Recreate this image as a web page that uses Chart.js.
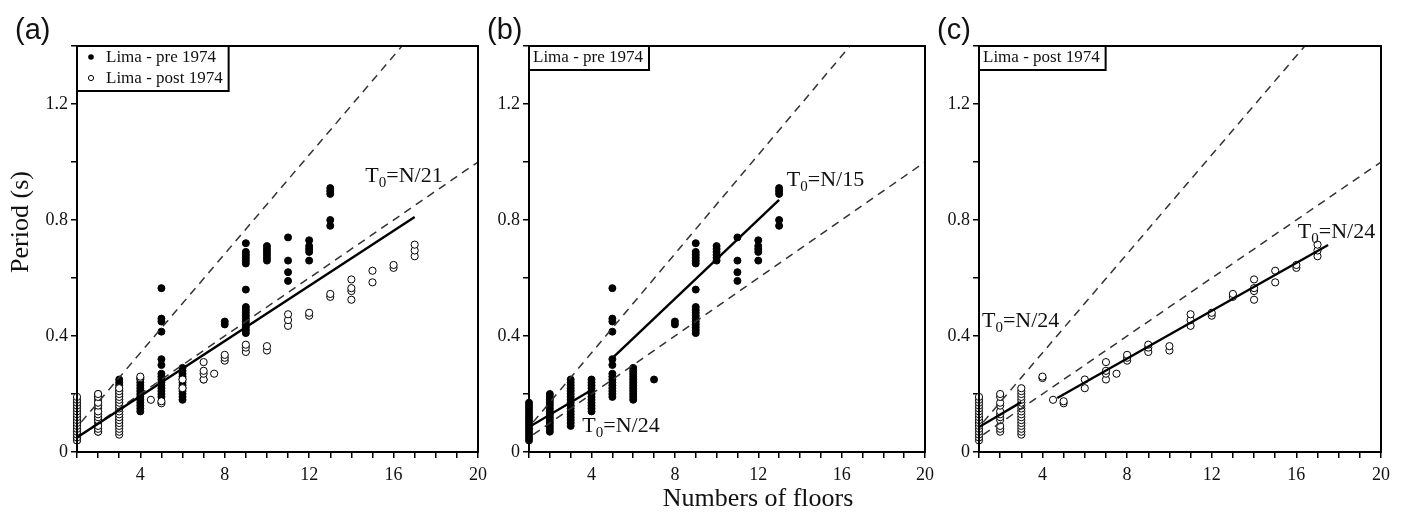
<!DOCTYPE html>
<html>
<head>
  <title>Period vs number of floors - Lima</title>
  <style>
    body { margin: 0; background: #fff; }
    .wrap { position: relative; width: 1404px; height: 512px; }
    canvas { position: absolute; top: 0; }
  </style>
</head>
<body>
  <div class="wrap">
    <canvas id="chartA" width="500" height="512" style="left:0px"></canvas>
    <canvas id="chartB" width="460" height="512" style="left:480px"></canvas>
    <canvas id="chartC" width="474" height="512" style="left:930px"></canvas>
  </div>

  <script src="https://cdn.jsdelivr.net/npm/chart.js@4"></script>
  <script>
    // measured periods, grouped by number of floors
    const preFloors = [1, 2, 3, 4, 5, 6, 7, 8, 9, 10, 11, 12, 13];
    const prePeriods = [
      [0.04, 0.05, 0.06, 0.07, 0.08, 0.09, 0.10, 0.11, 0.12, 0.13, 0.14, 0.15, 0.16, 0.17],
      [0.07, 0.08, 0.09, 0.10, 0.11, 0.12, 0.13, 0.14, 0.15, 0.16, 0.17, 0.18, 0.19, 0.20],
      [0.09, 0.10, 0.11, 0.12, 0.13, 0.14, 0.15, 0.16, 0.17, 0.18, 0.19, 0.20, 0.21, 0.22, 0.23, 0.24, 0.25],
      [0.14, 0.15, 0.16, 0.17, 0.18, 0.19, 0.20, 0.21, 0.22, 0.23, 0.24, 0.25],
      [0.19, 0.20, 0.21, 0.22, 0.23, 0.24, 0.25, 0.26, 0.27, 0.30, 0.32, 0.415, 0.45, 0.46, 0.565],
      [0.18, 0.19, 0.20, 0.21, 0.22, 0.23, 0.24, 0.25, 0.26, 0.27, 0.28, 0.29],
      [0.25],
      [0.44, 0.45],
      [0.41, 0.42, 0.43, 0.44, 0.45, 0.46, 0.47, 0.48, 0.49, 0.50, 0.56, 0.65, 0.66, 0.67, 0.68, 0.69, 0.72],
      [0.66, 0.67, 0.68, 0.69, 0.70, 0.71],
      [0.59, 0.62, 0.66, 0.74],
      [0.66, 0.69, 0.70, 0.71, 0.73],
      [0.78, 0.80, 0.89, 0.90, 0.91]
    ];
    const postFloors = [1, 2, 3, 4, 4.5, 5, 6, 7, 7.5, 8, 9, 10, 11, 12, 13, 14, 15, 16, 17];
    const postPeriods = [
      [0.04, 0.05, 0.06, 0.07, 0.08, 0.09, 0.10, 0.11, 0.12, 0.13, 0.14, 0.15, 0.16, 0.17, 0.18, 0.19],
      [0.07, 0.08, 0.09, 0.11, 0.12, 0.13, 0.14, 0.16, 0.17, 0.19, 0.20],
      [0.06, 0.07, 0.08, 0.09, 0.10, 0.11, 0.12, 0.13, 0.14, 0.15, 0.16, 0.17, 0.18, 0.19, 0.20, 0.21, 0.22],
      [0.255, 0.26],
      [0.18],
      [0.168, 0.175],
      [0.22, 0.25],
      [0.25, 0.27, 0.28, 0.31],
      [0.27],
      [0.315, 0.325, 0.335],
      [0.345, 0.36, 0.37],
      [0.35, 0.365],
      [0.435, 0.455, 0.475],
      [0.47, 0.48],
      [0.535, 0.545],
      [0.525, 0.555, 0.565, 0.595],
      [0.585, 0.625],
      [0.635, 0.645],
      [0.675, 0.695, 0.715]
    ];

    // reference lines (dashed) and fitted lines (solid), as end points
    const guideUpperX = [1.2, 16.4];
    const guideUpperY = [0.103, 1.4];
    const guideLowerX = [1.2, 20];
    const guideLowerY = [0.06, 1.0];
    const fitAllX = [1, 17];
    const fitAllY = [0.05, 0.81];
    const fitPreLowX = [1, 4];
    const fitPreLowY = [0.086, 0.214];
    const fitPreHighX = [5, 13];
    const fitPreHighY = [0.324, 0.869];
    const fitPostLowX = [1, 3];
    const fitPostLowY = [0.086, 0.172];
    const fitPostHighX = [4.7, 17.5];
    const fitPostHighY = [0.186, 0.714];

    const xTicks = [4, 8, 12, 16, 20];
    const yTicks = [0, 0.4, 0.8, 1.2];

    const serif = "'Liberation Serif', 'Times New Roman', serif";
    Chart.defaults.font.family = serif;
    Chart.defaults.color = '#111';

    function toPoints(xs, ys) {
      return xs.map((x, i) => ({ x: x, y: ys[i] }));
    }

    function groupPoints(floors, periods) {
      const pts = [];
      floors.forEach((f, i) => periods[i].forEach(p => pts.push({ x: f, y: p })));
      return pts;
    }

    function lineSet(xs, ys, dashed) {
      return {
        data: toPoints(xs, ys),
        showLine: true,
        borderColor: dashed ? '#333' : '#000',
        borderWidth: dashed ? 1.5 : 2.4,
        borderDash: dashed ? [8, 6] : [],
        pointRadius: 0,
        fill: false
      };
    }

    const preSet = () => ({
      data: groupPoints(preFloors, prePeriods),
      clip: false,
      pointRadius: 3.5,
      pointBackgroundColor: '#000',
      pointBorderColor: '#000',
      pointBorderWidth: 1
    });
    const postSet = () => ({
      data: groupPoints(postFloors, postPeriods),
      clip: false,
      pointRadius: 3.6,
      pointBackgroundColor: '#fff',
      pointBorderColor: '#000',
      pointBorderWidth: 1
    });

    // draws "T0=N/xx" with a subscript 0
    function drawT0(ctx, x, y, denom) {
      ctx.fillStyle = '#111';
      ctx.textAlign = 'left';
      ctx.textBaseline = 'alphabetic';
      ctx.font = '22px ' + serif;
      ctx.fillText('T', x, y);
      let w = ctx.measureText('T').width;
      ctx.font = '15px ' + serif;
      ctx.fillText('0', x + w, y + 5);
      w += ctx.measureText('0').width;
      ctx.font = '22px ' + serif;
      ctx.fillText('=N/' + denom, x + w, y);
    }

    const panelDecor = {
      id: 'panelDecor',
      afterDatasetsDraw(chart, args, opts) {
        const ctx = chart.ctx;
        const a = chart.chartArea;
        const sx = chart.scales.x;
        const sy = chart.scales.y;
        ctx.save();

        ctx.strokeStyle = '#000';
        ctx.lineWidth = 2;
        ctx.strokeRect(a.left, a.top, a.right - a.left, a.bottom - a.top);

        (opts.notes || []).forEach(n => {
          drawT0(ctx, sx.getPixelForValue(n.x), sy.getPixelForValue(n.y), n.denom);
        });

        // legend box in the top left corner
        ctx.font = '17px ' + serif;
        const lines = opts.legend || [];
        const withMarker = lines.length > 1;
        const textLeft = withMarker ? 29 : 4;
        let tw = 0;
        lines.forEach(l => { tw = Math.max(tw, ctx.measureText(l.text).width); });
        const bw = textLeft + tw + 6;
        const bh = withMarker ? 45 : 24;
        ctx.fillStyle = '#fff';
        ctx.fillRect(a.left, a.top, bw, bh);
        ctx.lineWidth = 2;
        ctx.strokeRect(a.left, a.top, bw, bh);
        lines.forEach((l, i) => {
          const base = a.top + 16 + i * 21;
          ctx.fillStyle = '#111';
          ctx.textAlign = 'left';
          ctx.fillText(l.text, a.left + textLeft, base);
          if (withMarker) {
            ctx.beginPath();
            ctx.arc(a.left + 14, base - 5, l.filled ? 2.8 : 2.6, 0, Math.PI * 2);
            ctx.lineWidth = 1;
            if (l.filled) { ctx.fillStyle = '#000'; ctx.fill(); }
            else { ctx.strokeStyle = '#000'; ctx.stroke(); }
          }
        });

        // panel letter
        ctx.fillStyle = '#111';
        ctx.font = '29px "Liberation Sans", Arial, sans-serif';
        ctx.textAlign = 'left';
        ctx.fillText(opts.letter, opts.letterX, 39);

        if (opts.yTitle) {
          ctx.save();
          ctx.translate(opts.yTitle.x, opts.yTitle.y);
          ctx.rotate(-Math.PI / 2);
          ctx.font = '26px ' + serif;
          ctx.textAlign = 'center';
          ctx.fillText(opts.yTitle.text, 0, 0);
          ctx.restore();
        }
        if (opts.xTitle) {
          ctx.font = '26px ' + serif;
          ctx.textAlign = 'center';
          ctx.fillText(opts.xTitle.text, opts.xTitle.x, opts.xTitle.y);
        }
        ctx.restore();
      }
    };

    function makePanel(id, datasets, yWidth, padRight, decor) {
      return new Chart(document.getElementById(id), {
        type: 'scatter',
        data: { datasets: datasets },
        options: {
          responsive: false,
          animation: false,
          layout: { padding: { top: 46, right: padRight, left: 0, bottom: 0 } },
          plugins: {
            legend: { display: false },
            tooltip: { enabled: false },
            panelDecor: decor
          },
          scales: {
            x: {
              type: 'linear',
              min: 1,
              max: 20,
              afterFit: s => { s.height = 60; },
              ticks: {
                stepSize: 1,
                autoSkip: false,
                maxRotation: 0,
                padding: 6,
                color: '#111',
                font: { size: 18 },
                callback: v => xTicks.includes(v) ? String(v) : ''
              },
              grid: { drawOnChartArea: false, drawTicks: true, tickLength: 6, color: '#000', lineWidth: 1.5 },
              border: { display: true, color: '#000', width: 2 }
            },
            y: {
              min: 0,
              max: 1.4,
              afterFit: s => { s.width = yWidth; },
              ticks: {
                stepSize: 0.2,
                autoSkip: false,
                padding: 3,
                color: '#111',
                font: { size: 18 },
                callback: v => {
                  const t = yTicks.find(t => Math.abs(t - v) < 1e-6);
                  if (t === undefined) return '';
                  return t === 0 ? '0' : t.toFixed(1);
                }
              },
              grid: { drawOnChartArea: false, drawTicks: true, tickLength: 6, color: '#000', lineWidth: 1.5 },
              border: { display: true, color: '#000', width: 2 }
            }
          }
        },
        plugins: [panelDecor]
      });
    }

    // (a) both groups
    makePanel('chartA', [
      lineSet(fitAllX, fitAllY, false),
      lineSet(guideUpperX, guideUpperY, true),
      lineSet(guideLowerX, guideLowerY, true),
      postSet(),
      preSet()
    ], 77, 22, {
      letter: '(a)', letterX: 15,
      legend: [{ text: 'Lima - pre 1974', filled: true }, { text: 'Lima - post 1974', filled: false }],
      notes: [{ x: 14.66, y: 0.93, denom: '21' }],
      yTitle: { text: 'Period (s)', x: 28, y: 222 }
    });

    // (b) pre 1974
    makePanel('chartB', [
      lineSet(fitPreLowX, fitPreLowY, false),
      lineSet(fitPreHighX, fitPreHighY, false),
      lineSet(guideUpperX, guideUpperY, true),
      lineSet(guideLowerX, guideLowerY, true),
      preSet()
    ], 49, 9, {
      letter: '(b)', letterX: 7,
      legend: [{ text: 'Lima - pre 1974' }],
      notes: [{ x: 13.37, y: 0.917, denom: '15' }, { x: 3.56, y: 0.069, denom: '24' }],
      xTitle: { text: 'Numbers of floors', x: 278, y: 506 }
    });

    // (c) post 1974
    makePanel('chartC', [
      lineSet(fitPostLowX, fitPostLowY, false),
      lineSet(fitPostHighX, fitPostHighY, false),
      lineSet(guideUpperX, guideUpperY, true),
      lineSet(guideLowerX, guideLowerY, true),
      postSet()
    ], 49, 23, {
      letter: '(c)', letterX: 7,
      legend: [{ text: 'Lima - post 1974' }],
      notes: [{ x: 16.07, y: 0.738, denom: '24' }, { x: 1.14, y: 0.431, denom: '24' }]
    });
  </script>
</body>
</html>
